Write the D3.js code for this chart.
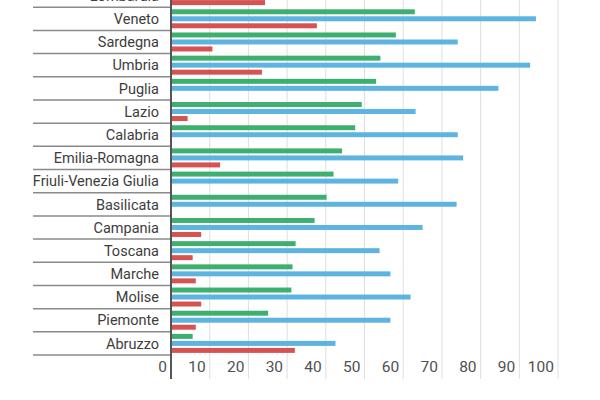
<!DOCTYPE html>
<html>
<head>
	<title>Regioni</title>
	<meta charset='utf-8'>
	<style>
		body { margin: 0; background: #fff; }
		.chart { font-family: Roboto, 'Noto Sans', sans-serif; }
		.grid line { stroke: #dedede; stroke-width: 1px; }
		.sep { stroke: #8a8a8a; stroke-width: 1.5px; }
		.axis-line { stroke: #555; stroke-width: 2px; }
		.cat-label { fill: #3d3d3d; font-size: 14.5px; }
		.tick-label { fill: #505050; font-size: 15.5px; }
	</style>
</head>
<body>
<div id="chart"></div>
<script src='https://d3js.org/d3.v7.min.js'></script>
<script>
	'use strict';

	// Dati (la prima regione è tagliata in alto)
	const categories = ['Lombardia', 'Veneto', 'Sardegna', 'Umbria', 'Puglia', 'Lazio', 'Calabria',
		'Emilia-Romagna', 'Friuli-Venezia Giulia', 'Basilicata', 'Campania', 'Toscana',
		'Marche', 'Molise', 'Piemonte', 'Abruzzo'];
	const greenValues = [68, 63.0, 58.1, 54.1, 53.0, 49.3, 47.6, 44.2, 42.0, 40.2, 37.1, 32.2, 31.4, 31.1, 25.1, 5.6];
	const blueValues = [88, 94.3, 74.1, 92.8, 84.6, 63.2, 74.1, 75.5, 58.7, 73.8, 65.0, 53.9, 56.7, 61.9, 56.7, 42.5];
	const redValues = [24.3, 37.7, 10.7, 23.5, 0, 4.3, 0, 12.7, 0, 0, 7.8, 5.6, 6.4, 7.8, 6.4, 32.0];
	const seriesKeys = ['green', 'blue', 'red'];
	const seriesColors = ['#3daf6e', '#5db4e1', '#d75352'];
	const xTicks = [0, 10, 20, 30, 40, 50, 60, 70, 80, 90, 100];

	const width = 600;
	const height = 400;
	const plot = {left: 171, right: 558, top: -16, bottom: 355, axisEnd: 379, labelLeft: 33};

	const seriesValues = [greenValues, blueValues, redValues];
	const data = categories.map((name, i) => {
		const row = {name: name};
		seriesKeys.forEach((k, j) => { row[k] = seriesValues[j][i]; });
		return row;
	});

	const xScale = d3.scaleLinear().domain([0, 100]).range([plot.left, plot.right]);
	const yScale = d3.scaleBand().domain(categories).range([plot.top, plot.bottom]);
	const inner = d3.scaleBand().domain(seriesKeys)
		.range([0, yScale.bandwidth()])
		.paddingInner(0.29)
		.paddingOuter(0.3);
	const color = d3.scaleOrdinal().domain(seriesKeys).range(seriesColors);

	const svg = d3.select('div#chart').append('svg')
		.attr('class', 'chart')
		.attr('width', width)
		.attr('height', height);

	// griglia verticale
	svg.append('g')
		.attr('class', 'grid')
		.selectAll('line')
		.data(xTicks.slice(1))
		.enter().append('line')
		.attr('x1', d => xScale(d))
		.attr('x2', d => xScale(d))
		.attr('y1', plot.top)
		.attr('y2', plot.axisEnd);

	// separatori tra le regioni
	svg.append('g')
		.selectAll('line')
		.data(categories)
		.enter().append('line')
		.attr('class', 'sep')
		.attr('x1', plot.labelLeft)
		.attr('x2', plot.left)
		.attr('y1', d => yScale(d) + yScale.bandwidth())
		.attr('y2', d => yScale(d) + yScale.bandwidth());

	// barre
	const groups = svg.append('g')
		.selectAll('g')
		.data(data)
		.enter().append('g')
		.attr('transform', d => 'translate(0,' + yScale(d.name) + ')');

	groups.selectAll('rect')
		.data(d => seriesKeys.map(k => ({key: k, value: d[k]})))
		.enter().append('rect')
		.attr('x', xScale(0))
		.attr('y', d => inner(d.key))
		.attr('width', d => xScale(d.value) - xScale(0))
		.attr('height', inner.bandwidth())
		.attr('fill', d => color(d.key));

	// etichette delle regioni
	svg.append('g')
		.selectAll('text')
		.data(categories)
		.enter().append('text')
		.attr('class', 'cat-label')
		.attr('x', plot.left - 12)
		.attr('y', d => yScale(d) + yScale.bandwidth() / 2)
		.attr('dy', '0.36em')
		.attr('text-anchor', 'end')
		.text(d => d);

	// asse verticale
	svg.append('line')
		.attr('class', 'axis-line')
		.attr('x1', xScale(0))
		.attr('x2', xScale(0))
		.attr('y1', plot.top)
		.attr('y2', plot.axisEnd);

	// etichette asse x
	svg.append('g')
		.selectAll('text')
		.data(xTicks)
		.enter().append('text')
		.attr('class', 'tick-label')
		.attr('x', d => xScale(d) - 4)
		.attr('y', 372)
		.attr('text-anchor', 'end')
		.text(d => d);
</script>
</body>
</html>
